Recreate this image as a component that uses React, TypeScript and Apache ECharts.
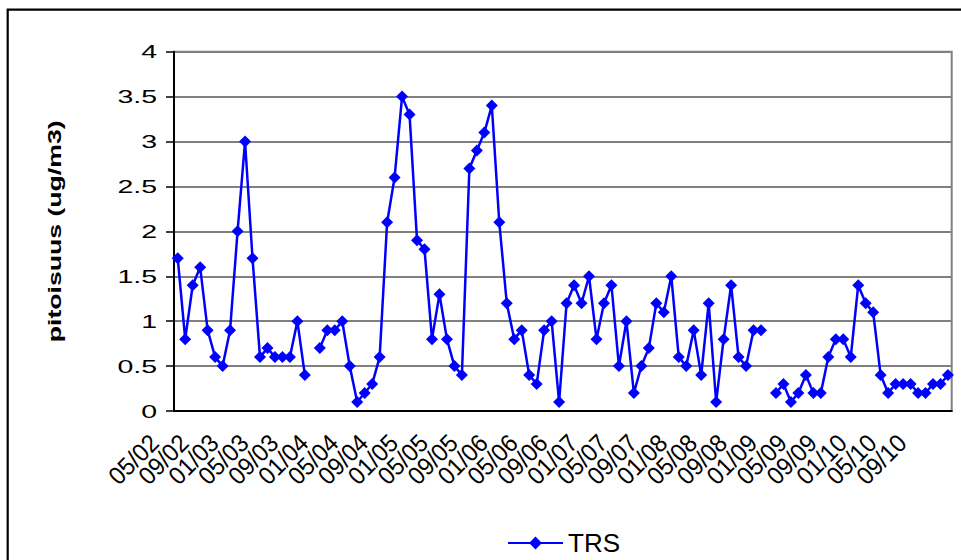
import { useEffect, useRef } from "react";
import * as echarts from "echarts";

// Monthly categories, May 2002 – December 2010 (MM/YY)
const months: string[] = [
  "05/02", "06/02", "07/02", "08/02", "09/02", "10/02", "11/02", "12/02",
  "01/03", "02/03", "03/03", "04/03", "05/03", "06/03", "07/03", "08/03", "09/03", "10/03", "11/03", "12/03",
  "01/04", "02/04", "03/04", "04/04", "05/04", "06/04", "07/04", "08/04", "09/04", "10/04", "11/04", "12/04",
  "01/05", "02/05", "03/05", "04/05", "05/05", "06/05", "07/05", "08/05", "09/05", "10/05", "11/05", "12/05",
  "01/06", "02/06", "03/06", "04/06", "05/06", "06/06", "07/06", "08/06", "09/06", "10/06", "11/06", "12/06",
  "01/07", "02/07", "03/07", "04/07", "05/07", "06/07", "07/07", "08/07", "09/07", "10/07", "11/07", "12/07",
  "01/08", "02/08", "03/08", "04/08", "05/08", "06/08", "07/08", "08/08", "09/08", "10/08", "11/08", "12/08",
  "01/09", "02/09", "03/09", "04/09", "05/09", "06/09", "07/09", "08/09", "09/09", "10/09", "11/09", "12/09",
  "01/10", "02/10", "03/10", "04/10", "05/10", "06/10", "07/10", "08/10", "09/10", "10/10", "11/10", "12/10",
];

// TRS monthly mean concentration (ug/m3); null = no measurement
const trs: (number | null)[] = [
  1.7, 0.8, 1.4, 1.6, 0.9, 0.6, 0.5, 0.9,
  2.0, 3.0, 1.7, 0.6, 0.7, 0.6, 0.6, 0.6, 1.0, 0.4, null, 0.7, 0.9, 0.9,
  1.0, 0.5, 0.1, 0.2, 0.3, 0.6, 2.1, 2.6, 3.5, 3.3, 1.9, 1.8,
  0.8, 1.3, 0.8, 0.5, 0.4, 2.7, 2.9, 3.1, 3.4, 2.1, 1.2, 0.8,
  0.9, 0.4, 0.3, 0.9, 1.0, 0.1, 1.2, 1.4, 1.2, 1.5, 0.8, 1.2,
  1.4, 0.5, 1.0, 0.2, 0.5, 0.7, 1.2, 1.1, 1.5, 0.6, 0.5, 0.9,
  0.4, 1.2, 0.1, 0.8, 1.4, 0.6, 0.5, 0.9, 0.9, null, 0.2, 0.3,
  0.1, 0.2, 0.4, 0.2, 0.2, 0.6, 0.8, 0.8, 0.6, 1.4, 1.2, 1.1,
  0.4, 0.2, 0.3, 0.3, 0.3, 0.2, 0.2, 0.3, 0.3, 0.4,
];

const yTicks: number[] = [0, 0.5, 1, 1.5, 2, 2.5, 3, 3.5, 4];
const yTickLabels: string[] = ["0", "0.5", "1", "1.5", "2", "2.5", "3", "3.5", "4"];
const xLabelStep = 4;
const yAxisTitle = "pitoisuus (ug/m3)";
const seriesName = "TRS";

const FONT = '"Liberation Sans", Arial, Helvetica, sans-serif';
const WIDE = 1.5; // horizontal stretch of the value-axis texts

export default function App() {
  const ref = useRef<HTMLDivElement>(null);

  useEffect(() => {
    const chart = echarts.init(ref.current!, null, { renderer: "svg" });

    chart.setOption({
      animation: false,
      backgroundColor: "#ffffff",
      grid: {
        left: 174,
        right: 9.3,
        top: 51.7,
        bottom: 149,
        show: true,
        borderColor: "#808080",
        borderWidth: 2,
      },
      xAxis: {
        type: "category",
        data: months,
        boundaryGap: true,
        axisLine: { lineStyle: { color: "#000000", width: 2 } },
        axisTick: { interval: 1, length: 7, lineStyle: { color: "#000000", width: 1.5 } },
        axisLabel: { show: false },
        splitLine: { show: false },
      },
      yAxis: {
        type: "value",
        min: 0,
        max: 4,
        interval: 0.5,
        axisLine: { show: true, lineStyle: { color: "#000000", width: 2 } },
        axisTick: { show: true, length: 8, lineStyle: { color: "#000000", width: 1.5 } },
        axisLabel: { show: false },
        splitLine: { lineStyle: { color: "#808080", width: 2 } },
      },
      legend: {
        data: [seriesName],
        left: 507,
        top: 530,
        padding: 0,
        itemWidth: 55,
        itemHeight: 16,
        itemGap: 10,
        textStyle: { fontFamily: FONT, fontSize: 26, color: "#000000", lineHeight: 26 },
      },
      series: [
        {
          name: seriesName,
          type: "line",
          data: trs,
          connectNulls: false,
          symbol: "diamond",
          symbolSize: 12,
          showAllSymbol: true,
          lineStyle: { color: "#0000ff", width: 2.5 },
          itemStyle: { color: "#0000ff" },
        },
      ],
    });

    // Axis texts are drawn as graphic texts placed on the axes' own scales
    const px = (c: string) => chart.convertToPixel({ xAxisIndex: 0 }, c) as number;
    const py = (v: number) => chart.convertToPixel({ yAxisIndex: 0 }, v) as number;
    const band = px(months[1]) - px(months[0]);
    const leftX = px(months[0]) - band / 2;
    const baseY = py(0);
    const midY = (py(yTicks[0]) + py(yTicks[yTicks.length - 1])) / 2;

    const elements: any[] = [];

    yTicks.forEach((v, i) => {
      elements.push({
        type: "text",
        x: leftX - 17,
        y: py(v),
        scaleX: WIDE,
        silent: true,
        style: {
          text: yTickLabels[i],
          align: "right",
          verticalAlign: "middle",
          fontFamily: FONT,
          fontSize: 19,
          fill: "#000000",
        },
      });
    });

    months.forEach((m, i) => {
      if (i % xLabelStep !== 0) return;
      elements.push({
        type: "text",
        x: px(m) - 23.5,
        y: baseY + 27.5,
        rotation: Math.PI / 4,
        scaleX: 0.94,
        silent: true,
        style: {
          text: m,
          align: "right",
          verticalAlign: "middle",
          fontFamily: FONT,
          fontSize: 25,
          fill: "#000000",
        },
      });
    });

    elements.push({
      type: "text",
      x: 55,
      y: midY,
      rotation: Math.PI / 2,
      scaleX: 1.48,
      silent: true,
      style: {
        text: yAxisTitle,
        align: "center",
        verticalAlign: "middle",
        fontFamily: FONT,
        fontSize: 18,
        fontWeight: "bold",
        fill: "#000000",
      },
    });

    // outer chart frame
    elements.push({
      type: "rect",
      silent: true,
      shape: { x: 7.7, y: 9.7, width: 1000, height: 1000 },
      style: { fill: "none", stroke: "#000000", lineWidth: 2.2 },
    });

    chart.setOption({ graphic: elements });

    return () => chart.dispose();
  }, []);

  return (
    <div
      ref={ref}
      style={{ position: "absolute", left: 0, top: 0, width: 961, height: 560 }}
    />
  );
}
